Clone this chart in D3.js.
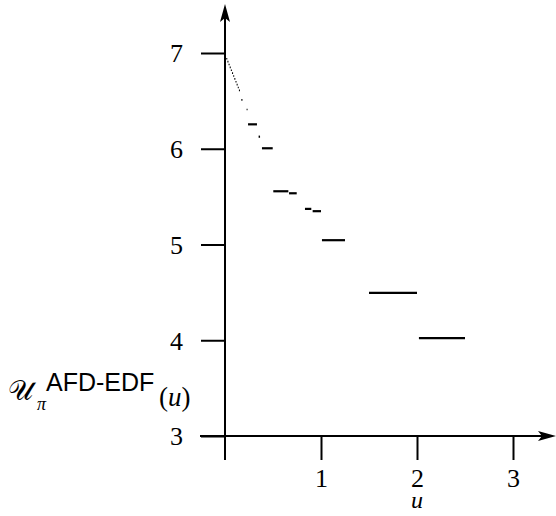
<!DOCTYPE html>
<html>
<head>
<meta charset="utf-8">
<script src="https://cdn.jsdelivr.net/npm/d3@7"></script>
<style>
  body { margin: 0; background: #fff; }
  svg { display: block; }
  .tick text { font-family: "Liberation Serif", "DejaVu Serif", serif; font-size: 26px; fill: #000; }
</style>
</head>
<body>
<div id="chart"></div>
<script>
// step function pieces: [start, end) -> value
const segStart = [0.013, 0.025, 0.037, 0.049, 0.061, 0.073, 0.085, 0.097, 0.109, 0.121, 0.133, 0.145,
                  0.170, 0.225, 0.240, 0.350, 0.385, 0.503, 0.667, 0.833, 0.913, 1.01, 1.5, 2.02];
const segEnd   = [0.024, 0.036, 0.048, 0.060, 0.072, 0.084, 0.096, 0.108, 0.120, 0.132, 0.144, 0.156,
                  0.182, 0.235, 0.333, 0.365, 0.497, 0.660, 0.747, 0.899, 1.0, 1.25, 2.0, 2.5];
const segValue = [6.94, 6.91, 6.88, 6.85, 6.82, 6.79, 6.76, 6.73, 6.70, 6.67, 6.64, 6.61,
                  6.51, 6.41, 6.255, 6.126, 6.005, 5.556, 5.535, 5.372, 5.348, 5.045, 4.495, 4.022];

const xTicks = [1, 2, 3];
const yTicks = [3, 4, 5, 6, 7];

const width = 556, height = 516;

const x = d3.scaleLinear().domain([0, 3]).range([225, 513]);
const y = d3.scaleLinear().domain([3, 7]).range([436, 53]);

const svg = d3.select("#chart").append("svg")
    .attr("width", width)
    .attr("height", height);

// axis lines
svg.append("line")
    .attr("x1", 200).attr("x2", 548)
    .attr("y1", y(3)).attr("y2", y(3))
    .attr("stroke", "#000").attr("stroke-width", 2);
svg.append("line")
    .attr("x1", x(0)).attr("x2", x(0))
    .attr("y1", 460).attr("y2", 12)
    .attr("stroke", "#000").attr("stroke-width", 2);

// arrow heads
svg.append("path")
    .attr("d", `M${x(0)},4 L${x(0) + 5},22 L${x(0)},18 L${x(0) - 5},22 Z`)
    .attr("fill", "#000");
svg.append("path")
    .attr("d", `M556,${y(3)} L538,${y(3) - 5} L542,${y(3)} L538,${y(3) + 5} Z`)
    .attr("fill", "#000");

// y ticks
const yAxis = svg.append("g")
    .attr("transform", `translate(${x(0)},0)`)
    .call(d3.axisLeft(y).tickValues(yTicks).tickSize(24).tickPadding(18).tickFormat(d3.format("d")));
yAxis.select(".domain").remove();
yAxis.selectAll(".tick line").attr("stroke", "#000").attr("stroke-width", 2);
yAxis.selectAll(".tick text").attr("dy", "0.34em");

// x ticks
const xAxis = svg.append("g")
    .attr("transform", `translate(0,${y(3)})`)
    .call(d3.axisBottom(x).tickValues(xTicks).tickSize(24).tickFormat(d3.format("d")));
xAxis.select(".domain").remove();
xAxis.selectAll(".tick line").attr("stroke", "#000").attr("stroke-width", 2);
xAxis.selectAll(".tick text").attr("y", 51).attr("dy", 0);

// x axis label
svg.append("text")
    .attr("x", x(2)).attr("y", 508)
    .attr("text-anchor", "middle")
    .style("font-family", "Liberation Serif, serif")
    .style("font-style", "italic")
    .style("font-size", "24px")
    .text("u");

// y axis label
const yl = svg.append("g");
yl.append("text")
    .attr("x", 8).attr("y", 400)
    .style("font-family", "DejaVu Serif, serif")
    .style("font-size", "28px")
    .text("𝒰");
yl.append("text")
    .attr("x", 37).attr("y", 410)
    .style("font-family", "Liberation Serif, serif")
    .style("font-style", "italic")
    .style("font-size", "18px")
    .text("π");
yl.append("text")
    .attr("x", 46).attr("y", 391)
    .style("font-family", "Liberation Sans, sans-serif")
    .style("font-size", "25px")
    .text("AFD-EDF");
yl.append("text")
    .attr("x", 159).attr("y", 406)
    .style("font-family", "Liberation Serif, serif")
    .style("font-size", "27px")
    .html('(<tspan font-style="italic">u</tspan>)');

// step segments
const segs = segStart.map((s, i) => ({ s: s, e: segEnd[i], v: segValue[i] }));
svg.append("g")
    .selectAll("line")
    .data(segs)
    .enter()
    .append("line")
      .attr("x1", d => x(d.s))
      .attr("x2", d => x(d.e))
      .attr("y1", d => y(d.v))
      .attr("y2", d => y(d.v))
      .attr("stroke", "#000")
      .attr("stroke-width", d => (d.e - d.s) < 0.012 ? 1.6 : 2.2);
</script>
</body>
</html>
